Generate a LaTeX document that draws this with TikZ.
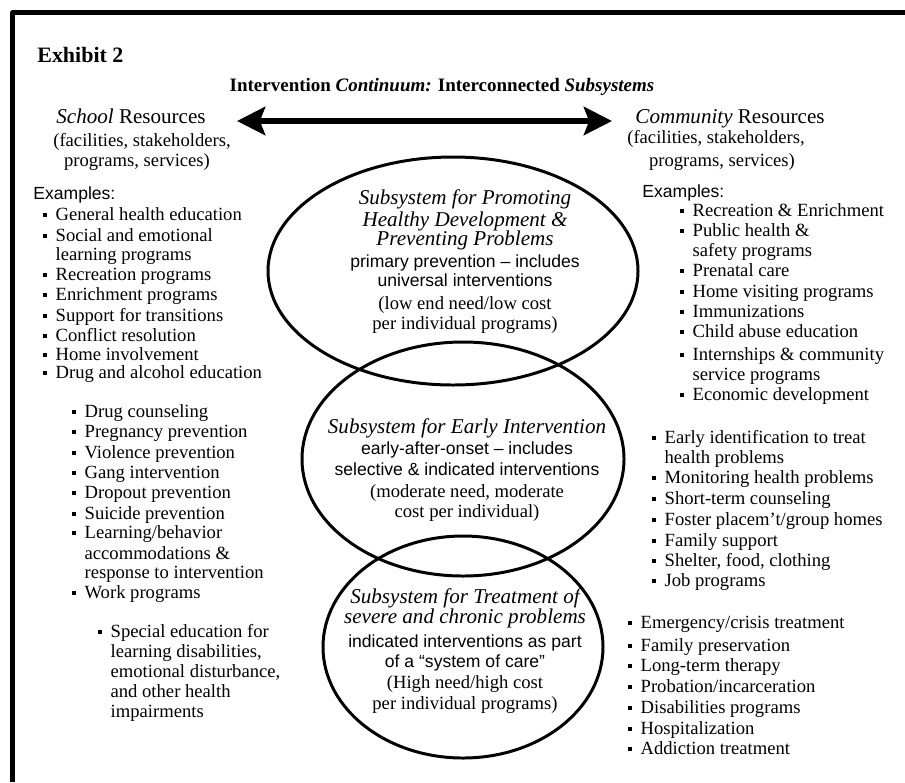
\documentclass[tikz,border=0pt]{standalone}
\usepackage{fontspec}
\setmainfont{Liberation Serif}
\setsansfont{Liberation Sans}
\usetikzlibrary{arrows.meta}
\newcommand{\blt}{\makebox[7pt][l]{\rule[1.8pt]{2pt}{2pt}}}
\newcommand{\nob}{\hspace*{7pt}}
\newcommand{\hdfont}{\fontsize{12}{14}\selectfont}
\begin{document}
\begin{tikzpicture}[x=0.02cm, y=-0.02cm, line join=round,
	font=\fontsize{10.6}{12}\selectfont,
	txt/.style={anchor=base west, inner sep=0pt},
	mid/.style={anchor=base, inner sep=0pt},
	sub/.style={mid, font=\hdfont\itshape},
	lvl/.style={mid, font=\sffamily},
	cost/.style={mid},
	sys/.style={line width=1.7pt}]
	\useasboundingbox (0,0) rectangle (905,782);
	\draw[line width=2.3pt] (12.5,782) -- (12.5,12.5) -- (905,12.5);
	% headings
	\node[txt, font=\fontsize{12.5}{14}\selectfont\bfseries] (exh) at (37,62) {Exhibit 2};
	\node[mid, font=\fontsize{10.8}{13}\selectfont\bfseries] (ttl) at (442,91) {Intervention \textit{Continuum:} Interconnected \textit{Subsystems}};
	\node[mid, font=\hdfont] (school) at (131,123) {\textit{School} Resources};
	\node[mid] (sfac) at (142,146) {(facilities, stakeholders,};
	\node[mid] (sprog) at (137,166) {programs, services)};
	\node[txt, font=\sffamily] (sex) at (33,199) {Examples:};
	\node[mid, font=\hdfont] (comm) at (730,123) {\textit{Community} Resources};
	\node[mid] (cfac) at (716,143) {(facilities, stakeholders,};
	\node[mid] (cprog) at (722,166) {programs, services)};
	\node[txt, font=\sffamily] (cex) at (642,197) {Examples:};
	\coordinate (al) at (237,121);
	\coordinate (ar) at (612,121);
	\draw[line width=3.4pt, {Stealth[length=16pt,width=16pt,inset=3pt]}-{Stealth[length=16pt,width=16pt,inset=3pt]}] (al) -- (ar);
	% the three subsystems
	\draw[sys] (453,271) ellipse [x radius=185, y radius=114];
	\draw[sys] (463,459) ellipse [x radius=161, y radius=117];
	\draw[sys] (463,647) ellipse [x radius=140, y radius=111];
	\foreach \y/\s/\t [count=\i] in {204/sub/{Subsystem for Promoting}, 226/sub/{Healthy Development \&},
		245/sub/{Preventing Problems}, 267/lvl/{primary prevention -- includes}, 286/lvl/{universal interventions},
		309/cost/{(low end need/low cost}, 329/cost/{per individual programs)}}
		\node[\s] (prom\i) at (465,\y) {\t};
	\foreach \y/\s/\t [count=\i] in {433/sub/{Subsystem for Early Intervention}, 454/lvl/{early-after-onset -- includes},
		475/lvl/{selective \& indicated interventions}, 497/cost/{(moderate need, moderate},
		517/cost/{cost per individual)}}
		\node[\s] (early\i) at (467,\y) {\t};
	\foreach \y/\s/\t [count=\i] in {603/sub/{Subsystem for Treatment of}, 623/sub/{severe and chronic problems},
		647/lvl/{indicated interventions as part}, 667/lvl/{of a “system of care”},
		688/cost/{(High need/high cost}, 709/cost/{per individual programs)}}
		\node[\s] (treat\i) at (465,\y) {\t};
	% school examples
	\foreach \y/\t [count=\i] in {220/{\blt General health education}, 241/{\blt Social and emotional},
		260/{\nob learning programs}, 280/{\blt Recreation programs}, 300/{\blt Enrichment programs},
		321/{\blt Support for transitions}, 341/{\blt Conflict resolution}, 360/{\blt Home involvement},
		378/{\blt Drug and alcohol education}}
		\node[txt] (sa\i) at (43,\y) {\t};
	\foreach \y/\t [count=\i] in {417/{\blt Drug counseling}, 437/{\blt Pregnancy prevention},
		458/{\blt Violence prevention}, 478/{\blt Gang intervention}, 498/{\blt Dropout prevention},
		519/{\blt Suicide prevention}, 538/{\blt Learning/behavior}, 559/{\nob accommodations \&},
		578/{\nob response to intervention}, 598/{\blt Work programs}}
		\node[txt] (sb\i) at (72,\y) {\t};
	\foreach \y/\t [count=\i] in {637/{\blt Special education for}, 657/{\nob learning disabilities,},
		677/{\nob emotional disturbance,}, 697/{\nob and other health}, 717/{\nob impairments}}
		\node[txt] (sc\i) at (98,\y) {\t};
	% community examples
	\foreach \y/\t [count=\i] in {216/{\blt Recreation \& Enrichment}, 236/{\blt Public health \&},
		256/{\nob safety programs}, 276/{\blt Prenatal care}, 297/{\blt Home visiting programs},
		317/{\blt Immunizations}, 337/{\blt Child abuse education}, 360/{\blt Internships \& community},
		380/{\nob service programs}, 400/{\blt Economic development}}
		\node[txt] (ca\i) at (680,\y) {\t};
	\foreach \y/\t [count=\i] in {443/{\blt Early identification to treat}, 463/{\nob health problems},
		483/{\blt Monitoring health problems}, 504/{\blt Short-term counseling},
		525/{\blt Foster placem’t/group homes}, 546/{\blt Family support},
		566/{\blt Shelter, food, clothing}, 586/{\blt Job programs}}
		\node[txt] (cb\i) at (652,\y) {\t};
	\foreach \y/\t [count=\i] in {628/{\blt Emergency/crisis treatment}, 651/{\blt Family preservation},
		671/{\blt Long-term therapy}, 692/{\blt Probation/incarceration}, 713/{\blt Disabilities programs},
		734/{\blt Hospitalization}, 754/{\blt Addiction treatment}}
		\node[txt] (cc\i) at (628,\y) {\t};
\end{tikzpicture}
\end{document}
